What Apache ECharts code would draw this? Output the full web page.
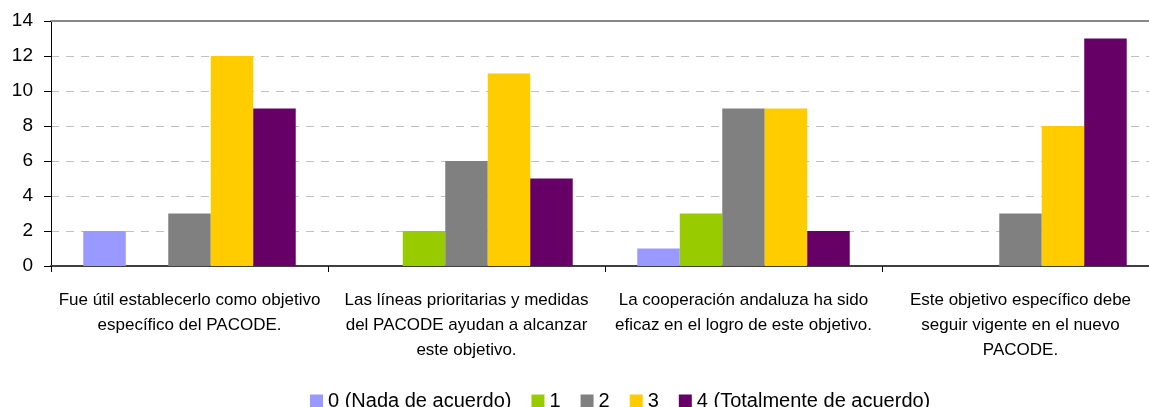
<!DOCTYPE html>
<html>
<head>
<meta charset="utf-8">
<script src="https://cdn.jsdelivr.net/npm/echarts@6/dist/echarts.min.js"></script>
<style>
  html, body { margin: 0; padding: 0; background: #fff; }
  #chart { width: 1149px; height: 407px; }
</style>
</head>
<body>
<div id="chart"></div>
<script>
  // categorías (saltos de línea como en el original)
  var categories = [
    'Fue útil establecerlo como objetivo\nespecífico del PACODE.',
    'Las líneas prioritarias y medidas\ndel PACODE ayudan a alcanzar\neste objetivo.',
    'La cooperación andaluza ha sido\neficaz en el logro de este objetivo.',
    'Este objetivo específico debe\nseguir vigente en el nuevo\nPACODE.'
  ];
  var seriesNames = ['0 (Nada de acuerdo)', '1', '2', '3', '4 (Totalmente de acuerdo)'];
  var val0 = [2, 0, 1, 0];
  var val1 = [0, 2, 3, 0];
  var val2 = [3, 6, 9, 3];
  var val3 = [12, 11, 9, 8];
  var val4 = [9, 5, 2, 13];
  var yTicks = [0, 2, 4, 6, 8, 10, 12, 14];

  var colors = ['#9999FF', '#99CC00', '#808080', '#FFCC00', '#660066'];
  var values = [val0, val1, val2, val3, val4];
  var font = '"Liberation Sans", Arial, sans-serif';

  var series = [];
  values.forEach(function (v, i) {
    series.push({
      type: 'bar',
      name: seriesNames[i],
      data: v,
      barGap: '0%',
      barCategoryGap: '23.3%',
      itemStyle: { color: colors[i] },
      animation: false
    });
  });

  var chart = echarts.init(document.getElementById('chart'));
  chart.setOption({
    color: colors,
    grid: { left: 51, right: -10, top: 21, bottom: 141, outerBoundsMode: 'none', containLabel: false },
    legend: {
      left: 305,
      top: 386,
      icon: 'rect',
      itemWidth: 13,
      itemHeight: 13,
      itemGap: 20,
      itemStyle: { borderWidth: 0 },
      textStyle: { fontFamily: font, fontSize: 20, color: '#000' },
      data: seriesNames
    },
    xAxis: [{
      type: 'category',
      data: categories,
      axisLine: { lineStyle: { color: '#404040', width: 2 } },
      axisTick: { show: true, length: 6, lineStyle: { color: '#000' } },
      axisLabel: {
        interval: 0,
        margin: 22,
        fontFamily: font,
        fontSize: 17,
        lineHeight: 25,
        color: '#000',
        align: 'center'
      }
    }, {
      type: 'category',
      position: 'top',
      data: categories,
      axisLine: { lineStyle: { color: '#888', width: 2 } },
      axisTick: { show: false },
      axisLabel: { show: false }
    }],
    yAxis: {
      type: 'value',
      min: 0,
      max: 14,
      interval: 2,
      axisLine: { show: true, lineStyle: { color: '#000', width: 1 } },
      axisTick: { show: true, length: 7, lineStyle: { color: '#000' } },
      axisLabel: {
        margin: 18,
        fontFamily: font,
        fontSize: 19,
        color: '#000',
        formatter: function (v) { return yTicks.indexOf(v) >= 0 ? String(v) : ''; }
      },
      splitLine: { lineStyle: { color: '#c0c0c0', type: [8, 7], width: 1 } }
    },
    series: series
  });
</script>
</body>
</html>
